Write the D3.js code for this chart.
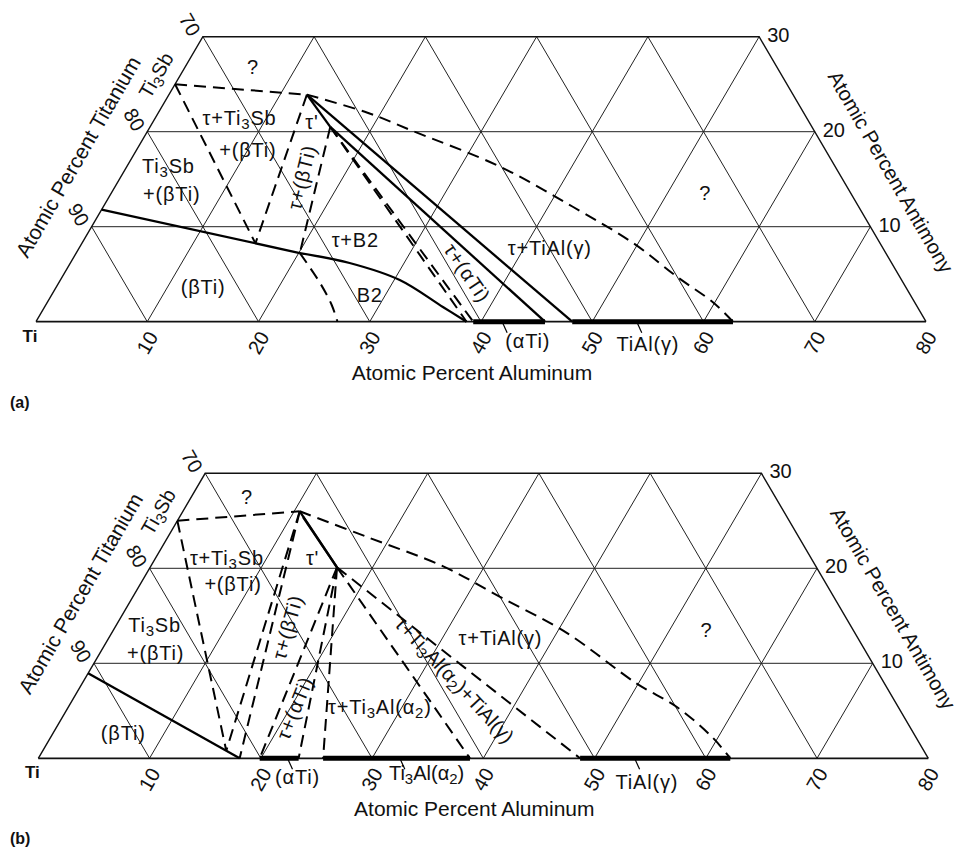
<!DOCTYPE html>
<html lang="en">
<head>
<meta charset="utf-8">
<title>Ti-Al-Sb partial isothermal sections</title>
<script src="https://cdn.jsdelivr.net/npm/d3@7"></script>
<style>
  body { margin: 0; background: #fff; }
  svg text { font-family: "Liberation Sans", Arial, sans-serif; fill: #111; }
</style>
</head>
<body>
<svg id="chart" width="964" height="848"></svg>
<script>
// all compositions are [at.% Al, at.% Sb]
var alTicks = [10, 20, 30, 40, 50, 60, 70, 80];
var tiTicks = [70, 80, 90];
var sbTicks = [10, 20, 30];

// ---- section (a)
var aTi3Sb = [0, 25];
var aTau = [12.4, 23.9];
var aTau2 = [16.2, 20.5];
var aBetaCorner = [15.6, 8.25];
var aB2Corner = [20.1, 7.23];
var aBetaEdge = [[0, 11.8], [20.1, 7.23]];
var aB2Solid = [[20.1, 7.23], [25.1, 6.18], [30.5, 4.39], [35.8, 1.55], [38.7, 0]];
var aB2Dash = [[20.1, 7.23], [23.5, 4.07], [25.7, 1.76], [27.1, 0]];
var aUnknown = [[12.4, 23.9], [18.8, 22.0], [23.5, 20.2], [33.6, 16.3], [42.2, 12.1],
                [49.5, 8.3], [55.3, 4.7], [59.9, 2.0], [62.65, 0]];
var aAlphaTi = [39.3, 45.75];
var aTiAl = [48.2, 62.65];

// ---- section (b)
var bTi3Sb = [0, 25];
var bTau = [10.5, 26.0];
var bTau2 = [16.8, 20.1];
var bBetaCorner = [16.5, 0.79];
var bBetaEdge = [[0, 8.95], [18.1, 0]];
var bUnknown = [[10.5, 26.0], [17.9, 23.3], [26.3, 20.2], [33.0, 17.0], [40.9, 13.2],
                [49.8, 7.9], [54.7, 5.4], [59.5, 2.2], [62.2, 0]];
var bAlphaTi = [19.9, 23.4];
var bTi3Al = [25.6, 38.8];
var bTiAl = [48.7, 62.2];

var unitX = 11.125, unitY = 9.5;
var svg = d3.select("#chart");

/** writes a label made of [text, isSubscript] pieces */
function richText(t, parts, size) {
    var prevSub = false;
    parts.forEach(function(s) {
        var sub = !!s[1];
        var span = t.append("tspan").text(s[0]);
        if (sub && !prevSub) span.attr("dy", 5);
        if (!sub && prevSub) span.attr("dy", -5);
        if (sub) span.style("font-size", Math.round(size * 0.75) + "px");
        prevSub = sub;
    });
}

function drawPanel(p) {
    var xs = d3.scaleLinear().domain([0, 80]).range([p.x0, p.x0 + 80 * unitX]);
    var ys = d3.scaleLinear().domain([0, 30]).range([p.y0, p.y0 - 30 * unitY]);
    var px = function(c) { return xs(c[0] + c[1] / 2); },
        py = function(c) { return ys(c[1]); };
    var line = d3.line().x(px).y(py);
    var smooth = d3.line().x(px).y(py).curve(d3.curveCatmullRom.alpha(0.5));
    var g = svg.append("g");

    /** grid lines */
    var grid = [];
    sbTicks.slice(0, 2).forEach(function(s) { grid.push([[0, s], [80 - s, s]]); });
    for (var a = 10; a <= 70; a += 10) grid.push([[a, 0], [a, Math.min(30, 80 - a)]]);
    for (var s = 10; s <= 70; s += 10) grid.push([[s, 0], s >= 30 ? [s - 30, 30] : [0, s]]);
    g.selectAll(".grid").data(grid).enter().append("path")
        .attr("d", line).attr("fill", "none").attr("stroke", "#222").attr("stroke-width", 1);

    g.append("path").attr("d", line([[0, 0], [0, 30], [50, 30], [80, 0]]))
        .attr("fill", "none").attr("stroke", "#111").attr("stroke-width", 1.4);
    g.append("path").attr("d", line([[0, 0], [80, 0]]))
        .attr("stroke", "#111").attr("stroke-width", 1.8);

    /** phase boundaries */
    p.solid.forEach(function(d) {
        g.append("path").attr("d", d.length > 2 ? smooth(d) : line(d))
            .attr("fill", "none").attr("stroke", "#000").attr("stroke-width", 2.3);
    });
    p.dashed.forEach(function(d) {
        g.append("path").attr("d", d.length > 2 ? smooth(d) : line(d))
            .attr("fill", "none").attr("stroke", "#000").attr("stroke-width", 2)
            .attr("stroke-dasharray", "12,7");
    });
    p.thick.forEach(function(r) {
        g.append("path").attr("d", line([[r[0], 0], [r[1], 0]]))
            .attr("stroke", "#000").attr("stroke-width", 5);
    });

    /** tick labels */
    g.selectAll(".alt").data(alTicks).enter().append("text")
        .attr("transform", function(d) { return "translate(" + xs(d) + "," + (p.y0 + 21) + ") rotate(-60)"; })
        .attr("text-anchor", "middle").attr("dominant-baseline", "central")
        .style("font-size", "20px").text(function(d) { return d; });
    g.selectAll(".tit").data(tiTicks).enter().append("text")
        .attr("transform", function(d) {
            var c = [0, 100 - d];
            return "translate(" + (px(c) - 13) + "," + (py(c) - 12) + ") rotate(60)";
        })
        .attr("text-anchor", "middle").attr("dominant-baseline", "central")
        .style("font-size", "20px").text(function(d) { return d; });
    g.selectAll(".sbt").data(sbTicks).enter().append("text")
        .attr("x", function(d) { return px([80 - d, d]) + 8; })
        .attr("y", function(d) { return py([80 - d, d]) + 5; })
        .style("font-size", "20px").text(function(d) { return d; });

    g.append("text").attr("x", p.x0 - 6).attr("y", p.y0 + 20).attr("text-anchor", "middle")
        .style("font-size", "17px").style("font-weight", "bold").text("Ti");

    /** axis titles */
    g.append("text").attr("x", p.x0 + 436).attr("y", p.y0 + 58).attr("text-anchor", "middle")
        .style("font-size", "21px").text("Atomic Percent Aluminum");
    g.append("text").attr("transform", "translate(" + (p.x0 + 42) + "," + (p.y0 - 165) + ") rotate(-60)")
        .attr("text-anchor", "middle").attr("dominant-baseline", "central")
        .style("font-size", "21px").text("Atomic Percent Titanium");
    g.append("text").attr("transform", "translate(" + (p.x0 + 855) + "," + (p.y0 - 150) + ") rotate(60)")
        .attr("text-anchor", "middle").attr("dominant-baseline", "central")
        .style("font-size", "20.5px").text("Atomic Percent Antimony");

    g.append("text").attr("x", 10).attr("y", p.y0 + 86)
        .style("font-size", "16px").style("font-weight", "bold").text(p.name);

    /** phase labels */
    p.labels.forEach(function(l) {
        var x = l.at ? px(l.at) : xs(l.al),
            y = l.at ? py(l.at) : p.y0 + l.dy;
        var t = g.append("text")
            .attr("transform", "translate(" + x + "," + y + ") rotate(" + (l.rot || 0) + ")")
            .attr("text-anchor", "middle").attr("dominant-baseline", "central")
            .style("font-size", "20px").style("letter-spacing", (l.ls != null ? l.ls : 0.8) + "px");
        richText(t, l.parts, 20);
        if (l.leader) {
            g.append("line").attr("x1", xs(l.leader)).attr("y1", p.y0)
                .attr("x2", xs(l.leader) + 5).attr("y2", p.y0 + 11)
                .attr("stroke", "#000").attr("stroke-width", 1.2);
        }
    });

    // Ti3Sb compound label
    var tl = g.append("text")
        .attr("transform", "translate(" + (px(p.ti3sb) - 19) + "," + (py(p.ti3sb) - 9) + ") rotate(-60)")
        .attr("text-anchor", "middle").attr("dominant-baseline", "central").style("font-size", "20px");
    richText(tl, [["Ti"], ["3", true], ["Sb"]], 20);
}

drawPanel({
    name: "(a)", x0: 36, y0: 321.7, ti3sb: aTi3Sb,
    solid: [aBetaEdge, aB2Solid, [aTau, aTau2], [aTau2, [aAlphaTi[1], 0]], [aTau, [aTiAl[0], 0]]],
    dashed: [aUnknown, aB2Dash, [aTi3Sb, aTau], [aTi3Sb, aBetaCorner], [aTau, aBetaCorner],
             [aTau2, aB2Corner], [aTau2, [38.7, 0]], [aTau2, [aAlphaTi[0], 0]]],
    thick: [aAlphaTi, aTiAl],
    labels: [
        { at: [6.1, 26.8], parts: [["?"]] },
        { at: [7.6, 21.4], parts: [["τ+Ti"], ["3", true], ["Sb"]] },
        { at: [10.0, 18.1], parts: [["+(βTi)"]] },
        { at: [3.7, 16.4], parts: [["Ti"], ["3", true], ["Sb"]] },
        { at: [5.5, 13.4], parts: [["+(βTi)"]] },
        { at: [13.2, 3.65], parts: [["(βTi)"]] },
        { at: [16.3, 15.2], rot: -76, parts: [["τ+(βTi)"]] },
        { at: [14.3, 21.0], parts: [["τ'"]] },
        { at: [24.4, 8.6], parts: [["τ+B2"]] },
        { at: [28.6, 2.8], parts: [["B2"]] },
        { at: [36.2, 5.13], rot: 56, parts: [["τ+(αTi)"]] },
        { at: [42.3, 7.76], parts: [["τ+TiAl(γ)"]] },
        { at: [53.4, 13.5], parts: [["?"]] },
        { al: 44.2, dy: 19, leader: 41.9, parts: [["(αTi)"]] },
        { al: 55.0, dy: 22, leader: 54.0, parts: [["TiAl(γ)"]] }
    ]
});

drawPanel({
    name: "(b)", x0: 38.3, y0: 758.3, ti3sb: bTi3Sb,
    solid: [bBetaEdge, [bTau, bTau2], [[bTau[0] + 0.6, bTau[1] - 0.6], bTau2]],
    dashed: [bUnknown, [bTi3Sb, bTau], [bTi3Sb, bBetaCorner], [bTau, bBetaCorner], [bTau, [18.1, 0]],
             [bTau2, [bAlphaTi[0], 0]], [bTau2, [bAlphaTi[1], 0]], [bTau2, [bTi3Al[0], 0]],
             [bTau2, [bTi3Al[1], 0]], [bTau2, [bTiAl[0], 0]]],
    thick: [bAlphaTi, bTi3Al, bTiAl],
    labels: [
        { at: [5.0, 27.5], parts: [["?"]] },
        { at: [6.4, 21.1], parts: [["τ+Ti"], ["3", true], ["Sb"]] },
        { at: [8.35, 18.3], parts: [["+(βTi)"]] },
        { at: [3.45, 14.0], parts: [["Ti"], ["3", true], ["Sb"]] },
        { at: [5.0, 11.1], parts: [["+(βTi)"]] },
        { at: [6.3, 2.67], parts: [["(βTi)"]] },
        { at: [15.5, 13.8], rot: -74, parts: [["τ+(βTi)"]] },
        { at: [20.4, 5.3], rot: -68, parts: [["τ+(αTi)"]] },
        { at: [14.1, 21.1], parts: [["τ'"]] },
        { at: [28.0, 5.4], parts: [["τ+Ti"], ["3", true], ["Al(α"], ["2", true], [")"]] },
        { at: [33.3, 8.25], rot: 47, ls: 0, parts: [["τ+Ti"], ["3", true], ["Al(α"], ["2", true], [")+TiAl(γ)"]] },
        { at: [35.2, 12.67], parts: [["τ+TiAl(γ)"]] },
        { at: [53.3, 13.5], parts: [["?"]] },
        { al: 23.3, dy: 19, leader: 22.4, parts: [["(αTi)"]] },
        { al: 34.9, dy: 15, leader: 32.5, ls: 0, parts: [["Ti"], ["3", true], ["Al(α"], ["2", true], [")"]] },
        { al: 54.7, dy: 24, leader: 53.6, parts: [["TiAl(γ)"]] }
    ]
});
</script>
</body>
</html>
